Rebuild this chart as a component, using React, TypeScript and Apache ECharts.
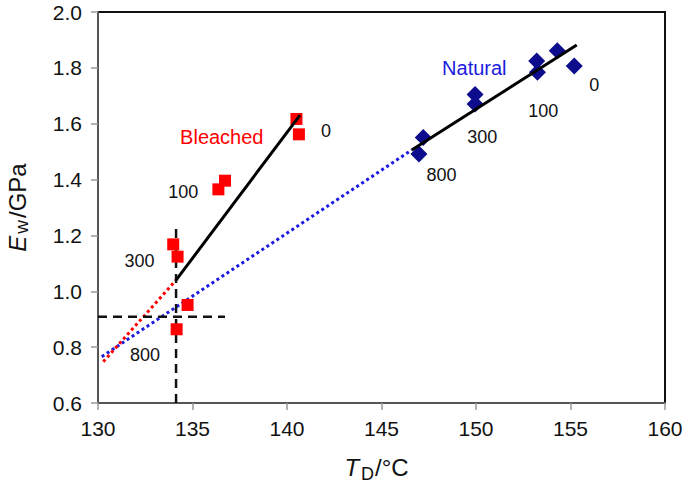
import React, { useEffect, useRef } from "react";
import * as echarts from "echarts";

// Data
const bleachedX = [140.5, 140.63, 136.72, 136.37, 133.98, 134.21, 134.74, 134.16];
const bleachedY = [1.617, 1.562, 1.396, 1.365, 1.168, 1.124, 0.951, 0.864];
const naturalX = [147.21, 146.98, 149.95, 149.95, 153.21, 153.25, 154.3, 155.2];
const naturalY = [1.551, 1.492, 1.705, 1.671, 1.825, 1.784, 1.861, 1.807];

const tempLabels = ["0", "100", "300", "800"];
const bleachedLabelX = [142.06, 134.51, 132.19, 132.49];
const bleachedLabelY = [1.574, 1.357, 1.109, 0.772];
const naturalLabelX = [156.26, 153.56, 150.33, 148.18];
const naturalLabelY = [1.739, 1.646, 1.553, 1.416];

const groupNames = ["Bleached", "Natural"];
const groupLabelX = [136.55, 149.91];
const groupLabelY = [1.553, 1.798];

// fitted lines (endpoints)
const bleachedFitX = [134.13, 140.69];
const bleachedFitY = [1.04, 1.631];
const bleachedExtX = [130.28, 134.13];
const bleachedExtY = [0.748, 1.04];
const naturalFitX = [146.6, 155.33];
const naturalFitY = [1.506, 1.882];
const naturalExtX = [130.2, 146.6];
const naturalExtY = [0.766, 1.506];

// reference crosshair
const crossX = 134.13;
const crossY = 0.909;
const crossVTop = 1.241;
const crossHRight = 136.72;

const xTicks = { min: 130, max: 160, interval: 5 };
const yTicks = { min: 0.6, max: 2.0, interval: 0.2 };

const FONT = "'Liberation Sans', Arial, Helvetica, sans-serif";
const RED = "#ff0000";
const NAVY = "#0c0c8c";
const BLUE = "#1a1ae0";
const INK = "#111111";

const zip = (xs: number[], ys: number[]) => xs.map((x, i) => [x, ys[i]]);

export default function App() {
  const ref = useRef<HTMLDivElement>(null);
  useEffect(() => {
    if (!ref.current) return;
    const chart = echarts.init(ref.current, undefined, { renderer: "svg" });
    const lineBase = (data: number[][], color: string, width: number, type: any, z: number) => ({
      type: "line",
      data,
      symbol: "none",
      silent: true,
      z,
      lineStyle: { color, width, type, opacity: 1 },
    });
    const textSeries = (xs: number[], ys: number[], names: string[], colors: string[], size: number) => ({
      type: "scatter",
      symbolSize: 0,
      z: 5,
      silent: true,
      itemStyle: { opacity: 1 },
      data: xs.map((x, i) => ({
        value: [x, ys[i]],
        name: names[i],
        label: { color: colors[i] },
      })),
      label: {
        show: true,
        position: "inside",
        formatter: (p: any) => p.name,
        fontSize: size,
        fontFamily: FONT,
        opacity: 1,
      },
    });
    chart.setOption({
      animation: false,
      backgroundColor: "#ffffff",
      grid: {
        left: 98,
        right: 20,
        top: 12,
        bottom: 88,
        outerBoundsMode: "none",
        containLabel: false,
        show: true,
        borderColor: INK,
        borderWidth: 2,
        backgroundColor: "transparent",
      },
      xAxis: {
        type: "value",
        min: xTicks.min,
        max: xTicks.max,
        interval: xTicks.interval,
        axisLine: { show: true, onZero: false, lineStyle: { color: "#555", width: 2 } },
        axisTick: { show: true, length: 7, lineStyle: { color: "#999", width: 1.5 } },
        axisLabel: { fontSize: 21, color: INK, fontFamily: FONT, margin: 15 },
        splitLine: { show: false },
        name: "{i|T}{s|D}{n|/°C}",
        nameLocation: "middle",
        nameGap: 48,
        nameTextStyle: {
          fontFamily: FONT,
          color: INK,
          fontSize: 23,
          padding: [0, 10, 0, 0],
          rich: {
            i: { fontStyle: "italic", fontSize: 24, fontFamily: FONT, color: INK },
            s: { fontSize: 18, fontFamily: FONT, color: INK, padding: [14, 1, 0, 2] },
            n: { fontSize: 24, fontFamily: FONT, color: INK },
          },
        },
      },
      yAxis: {
        type: "value",
        min: yTicks.min,
        max: yTicks.max,
        interval: yTicks.interval,
        axisLine: { show: true, onZero: false, lineStyle: { color: "#555", width: 2 } },
        axisTick: { show: true, length: 7, lineStyle: { color: "#999", width: 1.5 } },
        axisLabel: {
          fontSize: 21,
          color: INK,
          fontFamily: FONT,
          margin: 16,
          formatter: (v: number) => v.toFixed(1),
        },
        splitLine: { show: false },
        name: "{i|E}{s|w}{n|/GPa}",
        nameLocation: "middle",
        nameGap: 69,
        nameTextStyle: {
          fontFamily: FONT,
          color: INK,
          fontSize: 24,
          lineHeight: 24,
          rich: {
            i: { fontStyle: "italic", fontSize: 24, lineHeight: 24, fontFamily: FONT, color: INK },
            s: { fontSize: 19, lineHeight: 19, fontFamily: FONT, color: INK, padding: [9, 2, 0, 2] },
            n: { fontSize: 24, lineHeight: 24, fontFamily: FONT, color: INK },
          },
        },
      },
      series: [
        lineBase(zip(naturalExtX, naturalExtY), BLUE, 3, [3, 3], 1),
        lineBase(zip(bleachedExtX, bleachedExtY), RED, 3, [3, 3], 1),
        lineBase([[crossX, yTicks.min], [crossX, crossVTop]], INK, 2.5, [9, 6], 2),
        lineBase([[xTicks.min, crossY], [crossHRight, crossY]], INK, 2.5, [9, 6], 2),
        {
          type: "scatter",
          symbol: "rect",
          symbolSize: 12,
          z: 3,
          itemStyle: { color: RED, opacity: 1 },
          data: zip(bleachedX, bleachedY),
        },
        {
          type: "scatter",
          symbol: "diamond",
          symbolSize: [17, 17],
          z: 3,
          itemStyle: { color: NAVY, opacity: 1 },
          data: zip(naturalX, naturalY),
        },
        lineBase(zip(bleachedFitX, bleachedFitY), "#000", 3, "solid", 4),
        lineBase(zip(naturalFitX, naturalFitY), "#000", 3, "solid", 4),
        textSeries(bleachedLabelX, bleachedLabelY, tempLabels, tempLabels.map(() => INK), 18),
        textSeries(naturalLabelX, naturalLabelY, tempLabels, tempLabels.map(() => INK), 18),
        textSeries(groupLabelX, groupLabelY, groupNames, [RED, BLUE], 20),
      ],
    });
    return () => chart.dispose();
  }, []);
  return (
    <div
      ref={ref}
      style={{ position: "absolute", left: 0, top: 0, width: 685, height: 491 }}
    />
  );
}
